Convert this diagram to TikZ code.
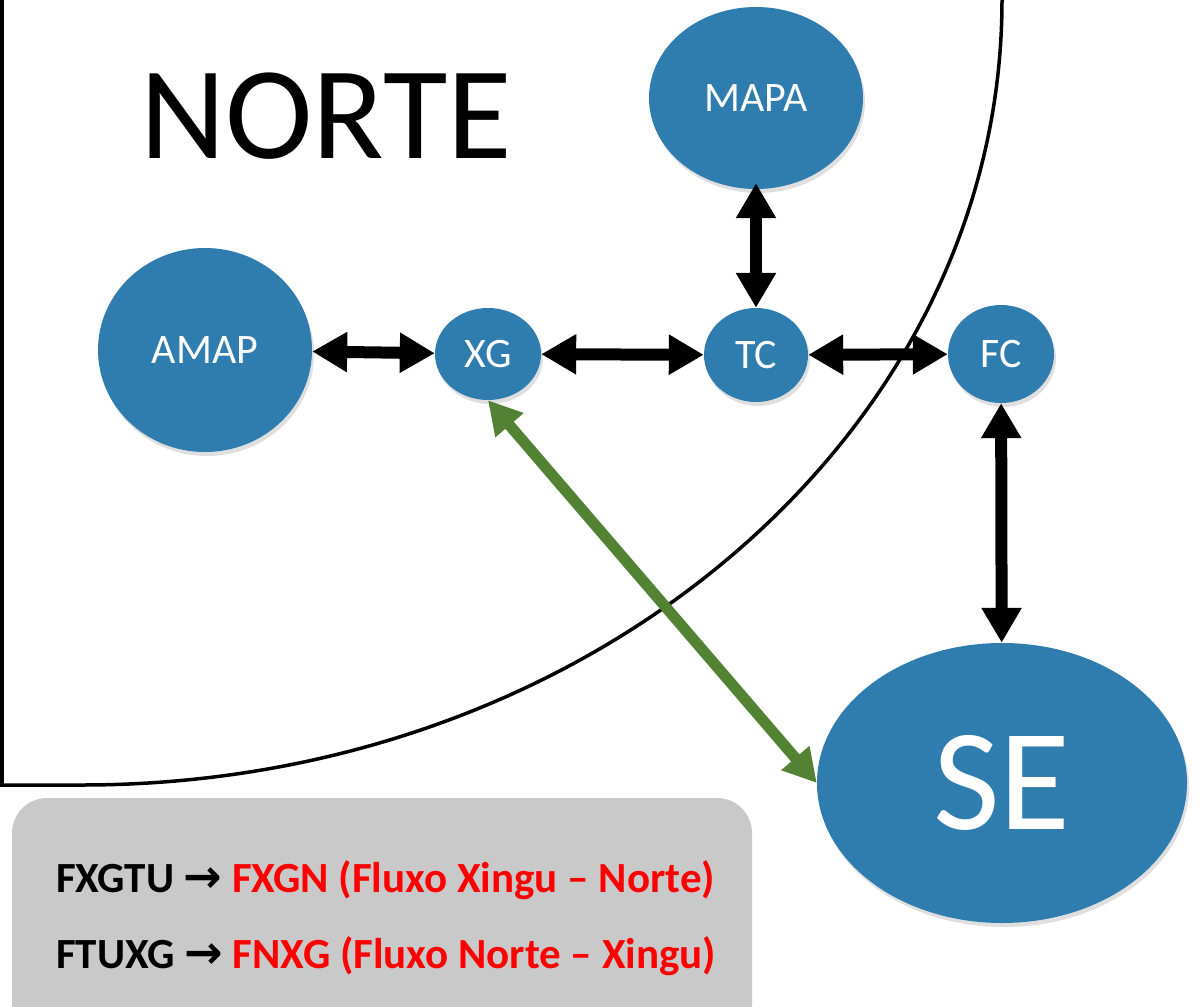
\documentclass[tikz,border=0pt]{standalone}
\usepackage{fontspec}
\setmainfont{Carlito}
\newfontfamily\symfont{DejaVu Sans}
\usetikzlibrary{arrows.meta,shapes.geometric,shadows}
\definecolor{nodeblue}{RGB}{47,124,174}
\definecolor{flowgreen}{RGB}{84,130,53}
\definecolor{boxgray}{RGB}{201,201,201}
\definecolor{textred}{RGB}{255,0,0}
\newcommand{\flowarrow}{{\symfont\fontsize{46bp}{50bp}\selectfont →}}

\begin{document}
\begin{tikzpicture}[x=1bp,y=-1bp,
  hub/.style={ellipse, fill=nodeblue, text=white, inner sep=0pt,
    font=\fontsize{42bp}{48bp}\selectfont,
    drop shadow={shadow xshift=2bp, shadow yshift=-4bp, opacity=0.25}},
  link/.style={line width=12bp,
    {Triangle[length=35bp,width=38bp]}-{Triangle[length=35bp,width=38bp]}},
  greenlink/.style={draw=flowgreen, line width=11bp,
    {Triangle[length=33bp,width=35bp]}-{Triangle[length=33bp,width=35bp]}},
  legendline/.style={anchor=base west, inner sep=0pt,
    font=\fontsize{43bp}{50bp}\selectfont\bfseries}
]
\useasboundingbox (0,0) rectangle (1201,1007);

% region boundary
\draw[line width=3.5bp] (2,0) -- (2,786);
\draw[line width=3.5bp] (1002,0) .. controls (1002,433) and (590,785) .. (82,785) -- (0,785);

% legend panel
\path[fill=boxgray, rounded corners=35bp] (12,798) rectangle (752,1040);
\node[legendline] (l1) at (56,892)
  {FXGTU \flowarrow{} \textcolor{textred}{FXGN (Fluxo Xingu – Norte)}};
\node[legendline] (l2) at (56,968)
  {FTUXG \flowarrow{} \textcolor{textred}{FNXG (Fluxo Norte – Xingu)}};

% region title
\node[anchor=base west, inner sep=0pt, font=\fontsize{132bp}{140bp}\selectfont] (norte) at (140,158) {NORTE};

% nodes
\node[hub, minimum width=214bp, minimum height=182bp] (mapa) at (756,98) {MAPA};
\node[hub, minimum width=214bp, minimum height=204bp] (amap) at (205,350) {AMAP};
\node[hub, minimum width=106bp, minimum height=92bp] (xg) at (488,354) {XG};
\node[hub, minimum width=104bp, minimum height=94bp] (tc) at (756,355) {TC};
\node[hub, minimum width=106bp, minimum height=98bp] (fc) at (1001,354) {FC};
\node[hub, minimum width=370bp, minimum height=280bp,
  font=\fontsize{145bp}{150bp}\selectfont] (se) at (1002,783) {SE};

% connections
\draw[link, shorten <=-6bp] (mapa) -- (tc);
\draw[link] (amap) -- (xg);
\draw[link] (xg) -- (tc);
\draw[link] (tc) -- (fc);
\draw[link] (fc) -- (se);
\draw[greenlink] (xg.south) -- (se.west);
\end{tikzpicture}
\end{document}
